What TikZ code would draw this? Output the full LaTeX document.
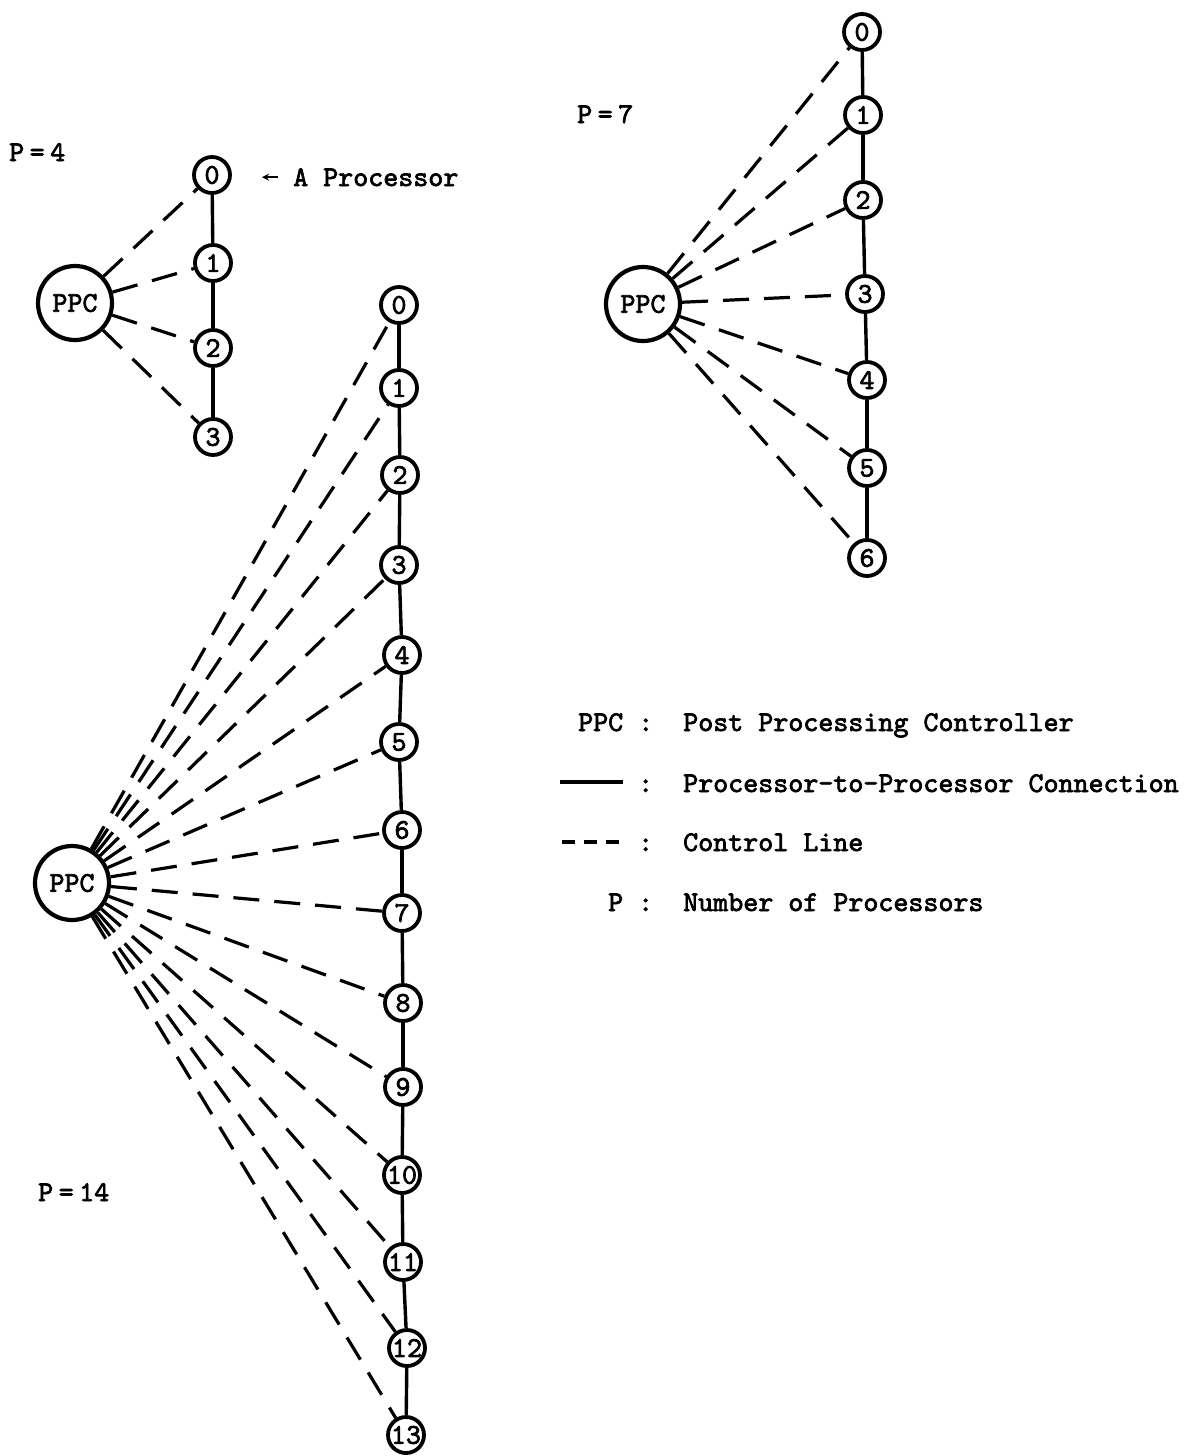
\documentclass[tikz,border=0pt]{standalone}
\usepackage{fontspec}
\usetikzlibrary{arrows.meta}
\newfontfamily\twfam{lmmono10-regular.otf}[FakeBold=2.4]
\newcommand{\twfont}{\twfam\fontsize{28.6pt}{34pt}\selectfont}
\begin{document}
\begin{tikzpicture}[x=1pt,y=-1pt,
  proc/.style={circle,draw,line width=3.8pt,minimum size=36pt,inner sep=0pt,font=\twfont},
  ppc/.style={circle,draw,line width=4.2pt,minimum size=74pt,inner sep=0pt,font=\twfont},
  link/.style={line width=3.4pt},
  ctrl/.style={line width=3.2pt,dash pattern=on 26pt off 15pt},
  lbl/.style={anchor=base west,inner sep=0pt,font=\twfont}]
\useasboundingbox (0,0) rectangle (1190,1456);

% ---------- P = 4 ----------
\node[ppc] (a) at (75,303) {PPC};
\foreach \i/\x/\y in {0/212/175,1/213/263,2/213/348,3/213/437}
  \node[proc] (a\i) at (\x,\y) {\i};
\foreach \i/\j in {0/1,1/2,2/3} \draw[link] (a\i) -- (a\j);
\foreach \i in {0,...,3} \draw[ctrl] (a) -- (a\i);
\node[lbl] (t4) at (9,161) {P\hspace{5.5pt}=\hspace{5.5pt}4};
\node[lbl] (pa) at (293,186) {A Processor};
\draw[line width=1.8pt,-{Stealth[length=7pt,width=7pt]}] ([xshift=-15pt]pa.west) -- ++(-16,0);

% ---------- P = 7 ----------
\node[ppc] (b) at (643,304) {PPC};
\foreach \i/\x/\y in {0/862/32,1/863/115,2/863/200,3/865/294,4/867/380,5/867/468,6/867/558}
  \node[proc] (b\i) at (\x,\y) {\i};
\foreach \i/\j in {0/1,1/2,2/3,3/4,4/5,5/6} \draw[link] (b\i) -- (b\j);
\foreach \i in {0,...,6} \draw[ctrl] (b) -- (b\i);
\node[lbl] (t7) at (577,123) {P\hspace{5.5pt}=\hspace{5.5pt}7};

% ---------- P = 14 ----------
\node[ppc] (c) at (72,883) {PPC};
\foreach \i/\x/\y in {0/399/305,1/399/388,2/400/475,3/399/565,4/402/655,5/399/742,
  6/402/830,7/402/913,8/403/1003,9/403/1087,10/402/1175,11/403/1262,12/407/1348,13/406/1435}
  \node[proc] (c\i) at (\x,\y) {\i};
\foreach \i [evaluate=\i as \j using int(\i+1)] in {0,...,12} \draw[link] (c\i) -- (c\j);
\foreach \i in {0,...,13} \draw[ctrl] (c) -- (c\i);
\node[lbl] (t14) at (38,1201) {P\hspace{5.5pt}=\hspace{5.5pt}14};

% ---------- legend ----------
\node[lbl] (k1) at (578,731) {PPC :\hspace{30pt}Post Processing Controller};
\node[lbl] (k2) at (638,792) {:\hspace{30pt}Processor-to-Processor Connection};
\node[lbl] (k3) at (638,851) {:\hspace{30pt}Control Line};
\node[lbl] (k4) at (608,911) {P :\hspace{30pt}Number of Processors};
\coordinate (k2s) at (560,782);
\coordinate (k2e) at (623,782);
\draw[line width=3.4pt] (k2s) -- (k2e);
\coordinate (k3s) at (562,842);
\coordinate (k3e) at (620,842);
\draw[line width=3.4pt,dash pattern=on 13pt off 9pt] (k3s) -- (k3e);
\end{tikzpicture}
\end{document}
